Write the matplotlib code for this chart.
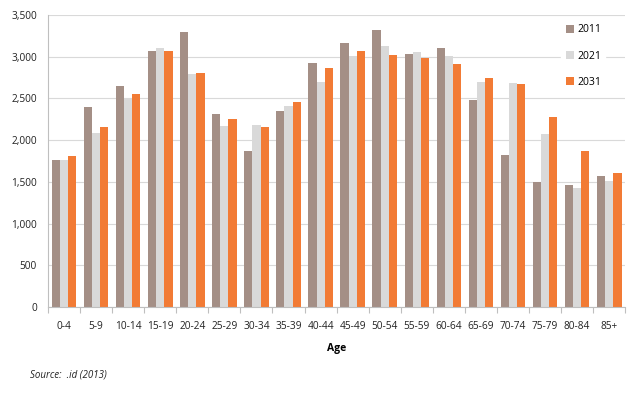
import numpy as np
import matplotlib.pyplot as plt
from matplotlib.ticker import FuncFormatter
from matplotlib.patches import Patch

plt.rcParams['font.family'] = ['Open Sans', 'DejaVu Sans']

ages = ['0-4', '5-9', '10-14', '15-19', '20-24', '25-29', '30-34', '35-39', '40-44',
        '45-49', '50-54', '55-59', '60-64', '65-69', '70-74', '75-79', '80-84', '85+']
pop_2011 = [1758, 2397, 2649, 3064, 3296, 2309, 1870, 2345, 2924,
            3164, 3316, 3036, 3108, 2485, 1818, 1502, 1466, 1574]
pop_2021 = [1758, 2086, 2505, 3100, 2789, 2169, 2177, 2405, 2693,
            3008, 3128, 3056, 3008, 2693, 2685, 2070, 1430, 1506]
pop_2031 = [1806, 2157, 2549, 3064, 2805, 2253, 2157, 2453, 2869,
            3068, 3024, 2988, 2913, 2749, 2673, 2277, 1870, 1610]

years = ['2011', '2021', '2031']
colors = ['#A48F86', '#D9D9D9', '#F27B35']

fig = plt.figure(figsize=(6.4, 3.98), dpi=100)
ax = fig.add_axes([0.075, 0.229, 0.902, 0.733])

x = np.arange(len(ages))
w = 0.255
for i, (vals, c) in enumerate(zip([pop_2011, pop_2021, pop_2031], colors)):
    ax.bar(x + (i - 1) * w, vals, width=w, color=c, zorder=2)

ax.set_xlim(-0.5, len(ages) - 0.5)
ax.set_ylim(0, 3500)
ax.set_yticks(np.arange(0, 3501, 500))
ax.yaxis.set_major_formatter(FuncFormatter(lambda v, p: f'{int(v):,}'))
ax.grid(axis='y', color='#D9D9D9', linewidth=0.8, zorder=0)

ax.set_xticks(x)
ax.set_xticklabels(ages, fontsize=7.3, color='#222222')
ax.set_xticks(np.arange(-0.5, len(ages), 1), minor=True)
ax.tick_params(axis='x', which='major', length=0, pad=10)
ax.tick_params(axis='x', which='minor', length=4, color='#BFBFBF', width=0.8)
ax.tick_params(axis='y', length=0, labelsize=7.3, labelcolor='#222222', pad=8)

for s in ['top', 'right']:
    ax.spines[s].set_visible(False)
ax.spines['left'].set_color('#BFBFBF')
ax.spines['bottom'].set_color('#BFBFBF')
ax.spines['left'].set_linewidth(0.8)
ax.spines['bottom'].set_linewidth(0.8)

ax.set_xlabel('Age', fontsize=7.5, fontweight='bold', labelpad=8)

handles = [Patch(facecolor=c, edgecolor='none') for c in colors]
leg = ax.legend(handles, years, loc='upper right', bbox_to_anchor=(0.974, 1.0),
                frameon=True, fontsize=7.5, labelspacing=1.45, handlelength=0.8,
                handleheight=0.8, handletextpad=0.3, borderpad=0.4)
leg.get_frame().set_edgecolor('white')
leg.get_frame().set_facecolor('white')
leg.get_frame().set_alpha(1)

fig.text(0.047, 0.052, 'Source:  .id (2013)', fontsize=7, style='italic', color='#222222')

fig.savefig('out.png', dpi=100)
